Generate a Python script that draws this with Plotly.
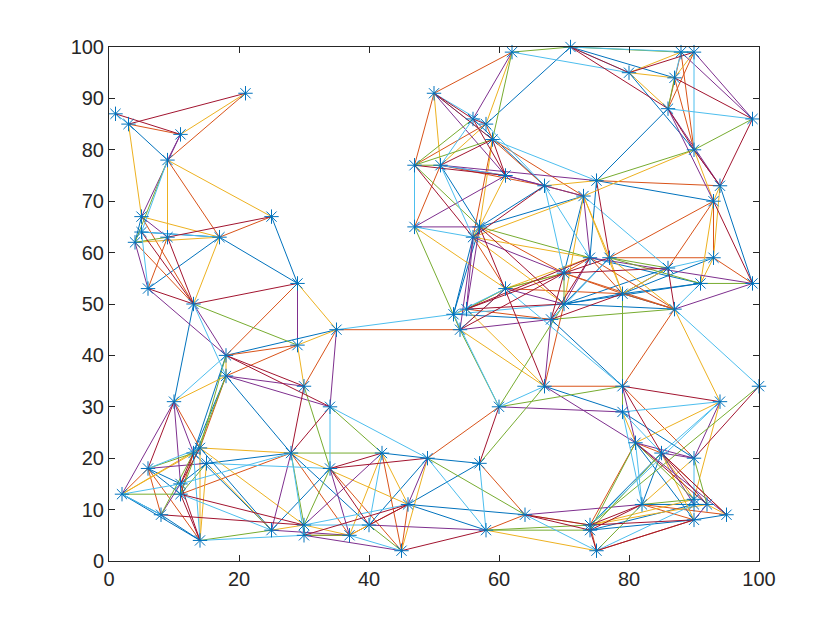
import plotly.graph_objects as go

node_x = [1, 3, 11, 21, 9, 5, 25, 5, 4, 9, 17, 6, 29, 13, 35, 18, 29, 18, 30, 34, 10, 14, 13, 28, 6, 15, 34, 11, 2, 11, 8, 14, 25, 30, 30, 37,
          42, 49, 57, 60, 67, 46, 40, 45, 58, 64, 100, 79, 94, 79, 81, 85, 90, 82, 90, 92, 90, 95, 90, 74, 74, 75,
          62, 71, 50, 56, 58, 59, 47, 51, 61, 67, 75, 73, 88, 90, 80, 87, 86, 99, 90, 94, 93,
          47, 57, 56, 70, 74, 61, 55, 53, 54, 70, 68, 77, 86, 93, 91, 99, 79, 87]
node_y = [87, 85, 83, 91, 78, 67, 67, 64, 62, 63, 63, 53, 54, 50, 45, 40, 42, 36, 34, 30, 31, 22, 21, 21, 18, 19, 18, 15, 13, 13, 9, 4, 6, 7, 5, 5,
          21, 20, 19, 30, 34, 11, 7, 2, 6, 9, 34, 34, 31, 29, 23, 21, 20, 11, 12, 11, 11, 9, 8, 7, 6, 2,
          99, 100, 91, 86, 85, 82, 77, 77, 75, 73, 74, 71, 99, 99, 95, 94, 88, 86, 80, 73, 70,
          65, 65, 63, 56, 59, 53, 49, 48, 45, 50, 47, 59, 57, 59, 54, 54, 52, 49]

# edges per colour, as x1, y1, x2, y2 in data units
edges_blue = [
    (3, 85, 9, 78), (4, 62, 5, 67), (25, 67, 29, 54), (17, 63, 29, 54), (17, 63, 6, 53), (5, 64, 17, 63),
    (13, 50, 10, 31), (18, 40, 35, 45), (18, 40, 13, 21), (18, 36, 13, 21), (18, 36, 28, 21), (6, 18, 11, 15),
    (6, 18, 11, 13), (2, 13, 8, 9), (2, 13, 14, 4), (8, 9, 14, 4), (11, 15, 15, 19), (15, 19, 28, 21),
    (14, 22, 25, 6), (13, 21, 25, 6), (28, 21, 40, 7), (25, 6, 34, 18), (42, 21, 49, 20), (49, 20, 40, 7),
    (46, 11, 58, 6), (46, 11, 64, 9), (46, 11, 57, 19), (49, 20, 57, 19), (67, 34, 79, 29), (79, 29, 90, 20),
    (81, 23, 90, 8), (85, 21, 82, 11), (85, 21, 74, 7), (82, 11, 92, 11), (74, 6, 90, 11), (74, 6, 90, 8),
    (90, 8, 95, 9), (71, 100, 58, 85), (71, 100, 87, 94), (80, 95, 90, 80), (86, 88, 75, 74), (75, 74, 93, 70),
    (94, 73, 99, 54), (93, 59, 79, 52), (91, 54, 79, 52), (74, 59, 91, 54), (79, 52, 87, 49), (70, 50, 87, 49),
    (68, 47, 79, 34), (56, 86, 67, 73), (51, 77, 57, 65), (67, 73, 57, 65), (73, 71, 57, 65), (73, 71, 70, 56),
    (74, 59, 75, 74), (57, 65, 53, 48), (56, 63, 53, 48), (53, 48, 68, 47), (70, 50, 79, 52), (70, 50, 86, 57),
    (70, 50, 77, 59), (70, 50, 91, 54), (86, 57, 79, 52), (47, 77, 47, 65),
]
edges_orange = [
    (3, 85, 11, 83), (9, 78, 21, 91), (9, 78, 17, 63), (25, 67, 17, 63), (4, 62, 13, 50), (5, 67, 13, 50),
    (9, 63, 6, 53), (29, 54, 18, 40), (35, 45, 54, 45), (18, 40, 29, 42), (18, 36, 29, 42), (35, 45, 30, 34),
    (18, 36, 14, 22), (10, 31, 14, 22), (6, 18, 8, 9), (6, 18, 14, 4), (2, 13, 6, 18), (11, 13, 13, 21),
    (11, 13, 28, 21), (28, 21, 37, 5), (30, 5, 37, 5), (34, 18, 45, 2), (42, 21, 45, 2), (37, 5, 46, 11),
    (45, 2, 46, 11), (49, 20, 60, 30), (57, 19, 64, 9), (58, 6, 64, 9), (67, 34, 79, 34), (79, 34, 90, 20),
    (81, 23, 85, 21), (81, 23, 74, 7), (85, 21, 95, 9), (82, 11, 95, 9), (82, 11, 90, 8), (75, 2, 90, 8),
    (74, 7, 75, 2), (62, 99, 50, 91), (90, 99, 86, 88), (88, 99, 86, 88), (88, 99, 90, 80), (87, 94, 90, 80),
    (75, 74, 94, 73), (93, 70, 93, 59), (93, 70, 86, 57), (93, 70, 77, 59), (93, 59, 99, 54), (93, 59, 77, 59),
    (74, 59, 79, 52), (74, 59, 87, 49), (79, 52, 87, 49), (87, 49, 79, 34), (47, 77, 50, 91), (47, 77, 58, 85),
    (51, 77, 67, 73), (51, 77, 47, 65), (59, 82, 67, 73), (59, 82, 73, 71), (59, 82, 56, 63), (67, 73, 73, 71),
    (57, 65, 70, 56), (56, 63, 61, 53), (61, 53, 79, 52), (55, 49, 68, 47), (54, 45, 53, 48), (70, 50, 67, 34),
    (74, 59, 70, 56), (70, 56, 87, 49), (70, 56, 79, 52), (59, 82, 58, 85),
]
edges_yellow = [
    (11, 83, 21, 91), (3, 85, 5, 67), (9, 78, 9, 63), (9, 78, 25, 67), (5, 67, 17, 63), (17, 63, 13, 50),
    (4, 62, 17, 63), (29, 54, 35, 45), (29, 42, 35, 45), (29, 42, 30, 34), (18, 40, 18, 36), (10, 31, 18, 36),
    (14, 22, 28, 21), (2, 13, 14, 22), (2, 13, 13, 21), (15, 19, 25, 6), (14, 22, 14, 4), (15, 19, 14, 4),
    (14, 22, 30, 7), (25, 6, 30, 7), (30, 7, 37, 5), (28, 21, 46, 11), (42, 21, 37, 5), (42, 21, 46, 11),
    (49, 20, 45, 2), (37, 5, 40, 7), (58, 6, 75, 2), (64, 9, 74, 7), (81, 23, 94, 31), (79, 29, 81, 23),
    (85, 21, 90, 12), (85, 21, 90, 8), (90, 20, 82, 11), (94, 31, 90, 12), (92, 11, 95, 9), (74, 7, 90, 12),
    (74, 7, 92, 11), (80, 95, 88, 99), (80, 95, 87, 94), (80, 95, 86, 88), (90, 99, 87, 94), (73, 71, 90, 80),
    (90, 80, 93, 70), (94, 73, 93, 70), (93, 70, 91, 54), (94, 73, 93, 59), (93, 59, 91, 54), (86, 57, 79, 52),
    (77, 59, 87, 49), (77, 59, 79, 52), (73, 71, 77, 59), (73, 71, 79, 52), (87, 49, 94, 31), (62, 99, 58, 85),
    (50, 91, 51, 77), (51, 77, 58, 85), (59, 82, 57, 65), (61, 75, 57, 65), (67, 73, 75, 74), (73, 71, 56, 63),
    (73, 71, 70, 50), (47, 65, 61, 53), (56, 63, 74, 59), (56, 63, 70, 50), (61, 53, 70, 56), (61, 53, 74, 59),
    (61, 53, 55, 49), (53, 48, 55, 49), (54, 45, 67, 34), (55, 49, 67, 34),
]
edges_purple = [
    (9, 78, 11, 83), (11, 83, 5, 67), (5, 67, 9, 63), (4, 62, 6, 53), (6, 53, 18, 40), (13, 50, 18, 40),
    (29, 54, 29, 42), (35, 45, 34, 30), (18, 36, 34, 30), (18, 36, 30, 34), (10, 31, 2, 13), (10, 31, 11, 15),
    (10, 31, 13, 21), (6, 18, 15, 19), (8, 9, 11, 15), (28, 21, 25, 6), (30, 7, 42, 21), (25, 6, 37, 5),
    (30, 5, 45, 2), (34, 18, 37, 5), (49, 20, 46, 11), (40, 7, 58, 6), (60, 30, 79, 29), (64, 9, 82, 11),
    (67, 34, 81, 23), (79, 34, 81, 23), (81, 23, 90, 20), (81, 23, 95, 9), (85, 21, 90, 20), (85, 21, 90, 11),
    (90, 20, 94, 31), (90, 8, 92, 11), (90, 99, 99, 86), (88, 99, 99, 86), (86, 88, 94, 73), (86, 88, 93, 70),
    (90, 80, 94, 73), (74, 59, 99, 54), (99, 54, 87, 49), (62, 99, 56, 86), (50, 91, 61, 75), (51, 77, 61, 75),
    (51, 77, 75, 74), (61, 75, 47, 65), (61, 75, 67, 73), (61, 75, 73, 71), (47, 65, 57, 65), (73, 71, 74, 59),
    (56, 63, 70, 56), (57, 65, 55, 49), (56, 63, 55, 49), (56, 63, 54, 45), (61, 53, 70, 50), (54, 45, 68, 47),
    (68, 47, 67, 34), (74, 59, 70, 50),
]
edges_green = [
    (9, 78, 4, 62), (4, 62, 9, 63), (13, 50, 29, 42), (18, 40, 14, 22), (18, 36, 11, 13), (34, 30, 42, 21),
    (30, 34, 34, 18), (28, 21, 42, 21), (6, 18, 13, 21), (2, 13, 11, 13), (8, 9, 13, 21), (11, 13, 15, 19),
    (14, 4, 25, 6), (28, 21, 30, 7), (30, 7, 34, 18), (30, 7, 30, 5), (30, 5, 37, 5), (40, 7, 45, 2),
    (49, 20, 64, 9), (57, 19, 67, 34), (60, 30, 79, 34), (58, 6, 74, 7), (58, 6, 74, 6), (79, 34, 79, 29),
    (81, 23, 74, 6), (81, 23, 90, 12), (85, 21, 74, 6), (74, 7, 100, 34), (90, 20, 92, 11), (82, 11, 90, 12),
    (82, 11, 75, 2), (62, 99, 59, 82), (62, 99, 71, 100), (71, 100, 88, 99), (88, 99, 90, 99), (87, 94, 86, 88),
    (90, 80, 99, 86), (75, 74, 90, 80), (77, 59, 91, 54), (77, 59, 86, 57), (91, 54, 99, 54), (68, 47, 87, 49),
    (79, 52, 79, 34), (47, 77, 56, 86), (47, 77, 59, 82), (47, 77, 51, 77), (47, 77, 57, 65), (47, 65, 54, 45),
    (57, 65, 74, 59), (57, 65, 56, 63), (61, 53, 70, 56), (61, 53, 55, 49), (54, 45, 60, 30), (70, 50, 60, 30),
    (70, 56, 70, 50),
]
edges_light = [
    (1, 87, 3, 85), (9, 78, 5, 64), (5, 64, 17, 63), (5, 64, 6, 53), (13, 50, 18, 36), (35, 45, 53, 48),
    (10, 31, 18, 40), (34, 30, 34, 18), (34, 30, 49, 20), (6, 18, 14, 22), (2, 13, 11, 15), (2, 13, 8, 9),
    (13, 21, 14, 4), (14, 4, 30, 5), (11, 15, 28, 21), (15, 19, 34, 18), (11, 13, 25, 6), (28, 21, 30, 5),
    (30, 7, 46, 11), (30, 7, 40, 7), (42, 21, 40, 7), (37, 5, 45, 2), (49, 20, 58, 6), (57, 19, 58, 6),
    (60, 30, 67, 34), (64, 9, 75, 2), (79, 29, 94, 31), (79, 29, 82, 11), (79, 29, 85, 21), (81, 23, 82, 11),
    (85, 21, 94, 31), (74, 7, 94, 31), (90, 20, 90, 12), (75, 2, 90, 11), (62, 99, 80, 95), (71, 100, 90, 99),
    (71, 100, 80, 95), (88, 99, 87, 94), (90, 99, 90, 80), (86, 88, 99, 86), (86, 57, 93, 59), (91, 54, 87, 49),
    (73, 71, 86, 57), (87, 49, 100, 34), (50, 91, 58, 85), (50, 91, 59, 82), (47, 77, 47, 65), (51, 77, 56, 86),
    (51, 77, 56, 63), (51, 77, 61, 75), (59, 82, 75, 74), (58, 85, 67, 73), (67, 73, 70, 56), (67, 73, 74, 59),
    (47, 65, 56, 63), (61, 53, 53, 48), (61, 53, 54, 45), (61, 53, 79, 34), (53, 48, 70, 50), (53, 48, 60, 30),
    (68, 47, 77, 59),
]
edges_red = [
    (3, 85, 21, 91), (1, 87, 11, 83), (25, 67, 9, 63), (5, 64, 13, 50), (9, 63, 13, 50), (6, 53, 13, 50),
    (13, 50, 29, 54), (18, 40, 30, 34), (18, 40, 34, 30), (30, 34, 28, 21), (34, 30, 28, 21), (10, 31, 6, 18),
    (11, 15, 14, 22), (11, 15, 13, 21), (11, 13, 14, 4), (11, 15, 14, 4), (8, 9, 30, 7), (11, 13, 30, 7),
    (34, 18, 42, 21), (34, 18, 49, 20), (34, 18, 40, 7), (40, 7, 46, 11), (30, 5, 46, 11), (45, 2, 58, 6),
    (57, 19, 60, 30), (64, 9, 74, 7), (64, 9, 74, 6), (79, 34, 94, 31), (79, 34, 85, 21), (81, 23, 92, 11),
    (85, 21, 92, 11), (85, 21, 95, 9), (90, 20, 100, 34), (82, 11, 74, 7), (82, 11, 74, 6), (74, 7, 90, 8),
    (75, 2, 90, 8), (74, 6, 75, 2), (71, 100, 80, 95), (71, 100, 86, 88), (80, 95, 90, 99), (87, 94, 99, 86),
    (86, 88, 90, 80), (90, 80, 94, 73), (99, 86, 94, 73), (93, 70, 99, 54), (86, 57, 87, 49), (86, 57, 70, 56),
    (75, 74, 77, 59), (47, 77, 61, 75), (47, 77, 56, 63), (51, 77, 59, 82), (50, 91, 56, 86), (50, 91, 59, 82),
    (56, 86, 58, 85), (56, 86, 61, 75), (59, 82, 61, 75), (67, 73, 56, 63), (57, 65, 67, 34), (57, 65, 70, 50),
    (61, 53, 54, 45), (55, 49, 70, 56), (55, 49, 70, 50), (54, 45, 70, 56), (70, 56, 68, 47), (74, 59, 68, 47),
    (70, 56, 77, 59), (68, 47, 79, 52), (74, 59, 55, 49),
]

colors = ["#0072BD", "#D95319", "#EDB120", "#7E2F8E", "#77AC30", "#4DBEEE", "#A2142F"]
edge_groups = [edges_blue, edges_orange, edges_yellow, edges_purple, edges_green, edges_light, edges_red]
tick_vals_x = list(range(0, 101, 20))
tick_vals_y = list(range(0, 101, 10))

fig = go.Figure()

for color, edges in zip(colors, edge_groups):
    xs, ys = [], []
    for x1, y1, x2, y2 in edges:
        xs += [x1, x2, None]
        ys += [y1, y2, None]
    fig.add_trace(go.Scatter(x=xs, y=ys, mode="lines", line=dict(color=color, width=1),
                             hoverinfo="skip", cliponaxis=False))

fig.add_trace(go.Scatter(
    x=node_x, y=node_y, mode="markers", cliponaxis=False,
    marker=dict(symbol="asterisk-open", size=12, color="#0072BD", line=dict(color="#0072BD", width=1)),
))

axis_style = dict(
    showgrid=False, zeroline=False, showline=True, linecolor="#262626", linewidth=1,
    mirror="ticks", ticks="inside", ticklen=6, tickwidth=1, tickcolor="#262626",
    tickfont=dict(family="Liberation Sans", size=20, color="#262626"),
)
fig.update_xaxes(range=[0, 100], tickvals=tick_vals_x, **axis_style)
fig.update_yaxes(range=[0, 100], tickvals=tick_vals_y, **axis_style)

# the page body has an 8px margin, so the figure is 8px smaller and margins are shifted
fig.update_layout(
    width=832, height=622, showlegend=False,
    paper_bgcolor="white", plot_bgcolor="white",
    margin=dict(l=101, r=81, t=39, b=69),
)

fig.write_html("out.html")
